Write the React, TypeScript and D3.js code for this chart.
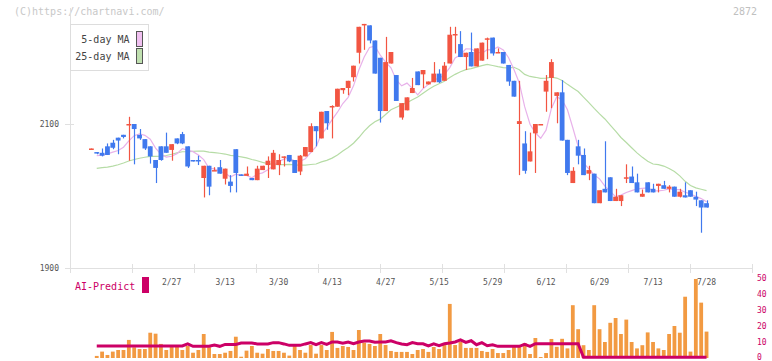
import React, { useEffect, useRef } from 'react';
import * as d3 from 'd3';

const W = 772;
const H = 361;

// daily candles [open, high, low, close]
const candles: [number, number, number, number][] = [
  [2065, 2066, 2065, 2066], [2061, 2061, 2058, 2059], [2060, 2066, 2055, 2056], [2069, 2073, 2057, 2057],
  [2074, 2078, 2065, 2067], [2081, 2081, 2058, 2077], [2085, 2085, 2080, 2082], [2098, 2110, 2049, 2100],
  [2100, 2100, 2044, 2093], [2085, 2093, 2078, 2080], [2079, 2079, 2064, 2066], [2069, 2069, 2045, 2055],
  [2050, 2050, 2018, 2039], [2069, 2069, 2049, 2050], [2069, 2088, 2060, 2060], [2064, 2072, 2049, 2072],
  [2080, 2080, 2072, 2073], [2086, 2089, 2072, 2073], [2069, 2069, 2039, 2041], [2050, 2050, 2048, 2049],
  [2050, 2056, 2043, 2048], [2025, 2042, 1998, 2042], [2042, 2042, 2001, 2013], [2035, 2040, 2035, 2036],
  [2040, 2050, 2031, 2031], [2024, 2038, 2016, 2038], [2020, 2029, 2005, 2014], [2065, 2065, 2005, 2032],
  [2030, 2030, 2028, 2028], [2028, 2041, 2028, 2031], [2025, 2025, 2022, 2022], [2022, 2042, 2022, 2038],
  [2036, 2042, 2036, 2042], [2043, 2055, 2025, 2049], [2037, 2064, 2037, 2060], [2043, 2058, 2029, 2050],
  [2054, 2055, 2041, 2055], [2057, 2057, 2047, 2048], [2050, 2050, 2032, 2032], [2034, 2057, 2029, 2056],
  [2055, 2068, 2055, 2068], [2061, 2101, 2061, 2097], [2097, 2097, 2069, 2090], [2080, 2117, 2080, 2117],
  [2118, 2118, 2092, 2101], [2123, 2126, 2080, 2125], [2124, 2149, 2124, 2149], [2147, 2150, 2142, 2150],
  [2150, 2160, 2140, 2160], [2165, 2181, 2159, 2181], [2199, 2235, 2184, 2235], [2238, 2239, 2203, 2239],
  [2237, 2237, 2212, 2216], [2216, 2216, 2170, 2170], [2192, 2192, 2102, 2118], [2118, 2221, 2118, 2186],
  [2184, 2200, 2184, 2200], [2168, 2168, 2132, 2132], [2109, 2129, 2106, 2129], [2119, 2137, 2119, 2137],
  [2143, 2164, 2143, 2150], [2173, 2173, 2154, 2154], [2169, 2175, 2150, 2175], [2155, 2159, 2155, 2159],
  [2158, 2186, 2158, 2170], [2170, 2176, 2157, 2158], [2160, 2186, 2160, 2181], [2184, 2235, 2184, 2224],
  [2223, 2235, 2198, 2225], [2211, 2229, 2193, 2193], [2193, 2199, 2175, 2199], [2200, 2227, 2180, 2180],
  [2180, 2205, 2180, 2205], [2188, 2213, 2188, 2213], [2218, 2220, 2190, 2219], [2220, 2220, 2195, 2198],
  [2199, 2205, 2199, 2200], [2200, 2200, 2184, 2184], [2182, 2182, 2153, 2159], [2160, 2160, 2138, 2138],
  [2100, 2160, 2029, 2104], [2073, 2090, 2031, 2035], [2048, 2088, 2048, 2062], [2087, 2100, 2032, 2100],
  [2099, 2100, 2099, 2100], [2145, 2168, 2117, 2160], [2164, 2190, 2122, 2186], [2139, 2144, 2101, 2144],
  [2144, 2161, 2077, 2077], [2078, 2078, 2029, 2032], [2018, 2040, 2018, 2035], [2069, 2078, 2044, 2056],
  [2057, 2066, 2029, 2029], [2031, 2042, 2022, 2036], [2031, 2031, 1990, 1990], [1990, 2008, 1990, 2008],
  [2010, 2076, 2005, 2005], [2026, 2026, 1993, 1993], [1993, 2010, 1993, 1999], [1993, 2001, 1986, 2001],
  [2025, 2044, 2018, 2026], [2027, 2041, 2018, 2018], [2019, 2031, 2005, 2005], [1999, 2009, 1999, 2003],
  [2019, 2019, 2005, 2005], [2010, 2017, 2005, 2005], [2014, 2017, 2005, 2017], [2015, 2021, 2010, 2010],
  [2010, 2015, 2005, 2013], [2013, 2013, 1999, 1999], [1999, 2010, 1998, 2006], [2001, 2019, 1998, 1998],
  [2008, 2008, 1999, 1999], [1999, 2006, 1986, 1995], [1994, 1994, 1949, 1984], [1990, 1994, 1984, 1984],
];

// closes before the visible window (needed for the moving averages)
const priorCloses = [
  2025, 2030, 2038, 2035, 2028, 2022, 2030, 2040, 2036, 2032, 2028, 2035,
  2042, 2038, 2030, 2026, 2033, 2040, 2038, 2033, 2045, 2052, 2048, 2055,
];

// AI-Predict panel, from the 2nd candle on
const predictBars = [
  1.3, 4, 1.9, 4, 5, 5, 11.3, 6.7, 5.6, 5.6, 15.8, 15.2, 8.8, 5, 7.1, 7.1, 5, 7.5, 3.3, 5,
  15, 6.7, 2.5, 2.5, 3.3, 4.4, 13.3, 0.8, 4.6, 7.5, 3.3, 2.7, 5.6, 4.4, 4.4, 3.3, 1.5, 7.5, 5, 3.3,
  8.1, 2.7, 8.1, 5, 16.3, 6.3, 7.5, 6.9, 5, 17.5, 9.6, 8.8, 7.5, 15, 8.1, 4.4, 3.8, 3.8, 3.8, 2.5,
  5, 5.6, 3.8, 6.9, 5.6, 8.1, 33.8, 8.1, 10, 6.3, 6.3, 6.3, 4.4, 3.8, 5.6, 3.1, 3.1, 5, 6.9, 6.9,
  9.4, 2.5, 12.5, 0.6, 3.1, 11.9, 7, 12, 6, 33, 18, 8, 5, 33, 18, 10, 22, 25, 15, 24,
  10, 6, 8, 16, 10, 6, 5, 15, 20, 15.8, 38.3, 4, 49.4, 34.6, 16.5,
];
const predictLine = [
  7.5, 7.5, 7.5, 7.5, 7.5, 7.5, 7.5, 7.5, 7.5, 7.5, 7.5, 7.5, 7.5, 7.5, 7.5, 7.5, 7.5, 8.8, 7.3, 7.3,
  7.3, 7.3, 8.1, 7.3, 8.5, 8.5, 8.5, 9.4, 9.4, 9.4, 8.8, 8.8, 8.8, 9.6, 9.6, 8.8, 7.9, 7.9, 7.9, 8.8,
  9.6, 8.3, 9.6, 8.5, 10, 10, 9.2, 10, 8.9, 10, 10.6, 10.6, 9.8, 10, 10, 10.8, 9.6, 8.8, 8.3, 9.6,
  8.9, 8.9, 7.5, 8.8, 7.7, 8.9, 9.4, 10, 11.3, 9.8, 10.8, 8.3, 9.6, 7.7, 8.3, 7.3, 7.3, 7.3, 7.3, 7.3,
  8.5, 7.3, 8.9, 8.9, 8.9, 8.9, 8.9, 8.9, 8.9, 8.9, 8.9, 0.5, 0.5, 0.5, 0.5, 0.5, 0.5, 0.5, 0.5, 0.5,
  0.5, 0.5, 0.5, 0.5, 0.5, 0.5, 0.5, 0.5, 0.5, 0.5, 0.5, 0.5, 0.5, 0.5, 0.5,
];

const dateLabels = ['2/27', '3/13', '3/30', '4/13', '4/27', '5/15', '5/29', '6/12', '6/29', '7/13', '7/28'];
const dateIndex = [15, 25, 35, 45, 55, 65, 75, 85, 95, 105, 115];
const priceTicks = [1900, 2100];
const predictTicks = [0, 10, 20, 30, 40, 50];

const UP = '#f25542';
const DOWN = '#4079ee';
const FONT = '"DejaVu Sans Mono", monospace';

const App = () => {
  const svgRef = useRef(null);

  useEffect(() => {
    const svg = d3.select(svgRef.current);
    svg.selectAll('*').remove();

    const x = d3.scaleLinear([-4, 123.5], [70, 752]);
    const y = d3.scaleLinear([1900, 2100], [268, 124]);
    const yb = d3.scaleLinear([0, 50], [358, 278]);

    svg.append('rect').attr('width', W).attr('height', H).attr('fill', '#fff');

    // header texts
    svg.append('text').attr('x', 14).attr('y', 15).attr('font-size', 10).attr('fill', '#c8c8c8')
      .attr('font-family', FONT).text('(C)https://chartnavi.com/');
    svg.append('text').attr('x', 757).attr('y', 15).attr('font-size', 10).attr('fill', '#c0c0c0')
      .attr('font-family', FONT).attr('text-anchor', 'end').text('2872');

    // axes
    const axis = svg.append('g').attr('stroke', '#e0e0e0').attr('stroke-width', 1);
    axis.append('line').attr('x1', 70.5).attr('x2', 70.5).attr('y1', 8).attr('y2', 268);
    axis.append('line').attr('x1', 65).attr('x2', 752).attr('y1', 268.5).attr('y2', 268.5);
    d3.range(12).forEach(k => {
      const tx = Math.round(70 + (682 / 11) * k) + 0.5;
      axis.append('line').attr('x1', tx).attr('x2', tx).attr('y1', 264).attr('y2', 273);
    });
    priceTicks.forEach(p => {
      axis.append('line').attr('x1', 65).attr('x2', 74).attr('y1', Math.round(y(p)) + 0.5).attr('y2', Math.round(y(p)) + 0.5);
      svg.append('text').attr('x', 59).attr('y', y(p) + 3).attr('text-anchor', 'end')
        .attr('font-size', 8).attr('font-family', FONT).attr('fill', '#555').text(p);
    });

    dateLabels.forEach((t, k) => {
      svg.append('text').attr('x', x(dateIndex[k])).attr('y', 285).attr('text-anchor', 'middle')
        .attr('font-size', 8).attr('font-family', FONT).attr('fill', '#555').text(t);
    });

    // moving averages
    const closes = priorCloses.concat(candles.map(d => d[3]));
    const ma = (n: number) => candles.map((_, i) => d3.mean(closes.slice(i + 24 - n + 1, i + 25)) as number);
    const maLine = d3.line<number>().x((_, i) => x(i + 1)).y(v => y(v));
    svg.append('path').attr('d', maLine(ma(25).slice(1))).attr('fill', 'none')
      .attr('stroke', '#b6dca6').attr('stroke-width', 1.2);
    svg.append('path').attr('d', maLine(ma(5).slice(1))).attr('fill', 'none')
      .attr('stroke', '#e8b2ea').attr('stroke-width', 1.2);

    // candles
    const g = svg.append('g');
    candles.forEach(([o, h, l, c], i) => {
      const cx = x(i);
      const col = c >= o ? UP : DOWN;
      g.append('line').attr('x1', Math.round(cx) + 0.5).attr('x2', Math.round(cx) + 0.5)
        .attr('y1', y(h)).attr('y2', y(l)).attr('stroke', col).attr('stroke-width', 1.2);
      const top = y(Math.max(o, c));
      const bh = Math.max(1.5, Math.abs(y(o) - y(c)));
      g.append('rect').attr('x', cx - 2.4).attr('width', 4.8).attr('y', top).attr('height', bh).attr('fill', col);
    });

    // legend
    svg.append('rect').attr('x', 70.5).attr('y', 24.5).attr('width', 78).attr('height', 46)
      .attr('fill', '#fff').attr('stroke', '#ddd');
    [['5-day MA', '#f0c0f0', 43, 31.5], ['25-day MA', '#c0e0b0', 60, 48.5]].forEach(([t, f, ty, ry]) => {
      svg.append('text').attr('x', 129.5).attr('y', ty).attr('text-anchor', 'end').attr('font-size', 10)
        .attr('font-family', FONT).attr('fill', '#444').text(t as string);
      svg.append('rect').attr('x', 136.5).attr('y', ry).attr('width', 6).attr('height', 15)
        .attr('fill', f as string).attr('stroke', '#555');
    });

    // AI-Predict panel
    svg.append('text').attr('x', 75).attr('y', 290).attr('font-size', 10).attr('font-family', FONT)
      .attr('fill', '#cc0066').text('AI-Predict');
    svg.append('rect').attr('x', 142).attr('y', 277).attr('width', 7).attr('height', 16).attr('fill', '#cc0066');

    predictBars.forEach((v, j) => {
      svg.append('rect').attr('x', x(j + 1) - 1.9).attr('width', 3.8).attr('y', yb(v))
        .attr('height', yb(0) - yb(v)).attr('fill', '#f29a42');
    });
    const pl = d3.line<number>().x((_, j) => x(j + 1)).y(v => yb(v));
    svg.append('path').attr('d', pl(predictLine)).attr('fill', 'none').attr('stroke', '#cc0066')
      .attr('stroke-width', 3);

    predictTicks.forEach(v => {
      svg.append('text').attr('x', 757).attr('y', Math.min(yb(v) + 3, 359.5)).attr('font-size', 8)
        .attr('font-family', FONT).attr('fill', '#cc0066').text(v);
    });
  }, []);

  return <svg ref={svgRef} width={W} height={H} style={{ position: 'absolute', left: 0, top: 0 }} />;
};

export default App;
